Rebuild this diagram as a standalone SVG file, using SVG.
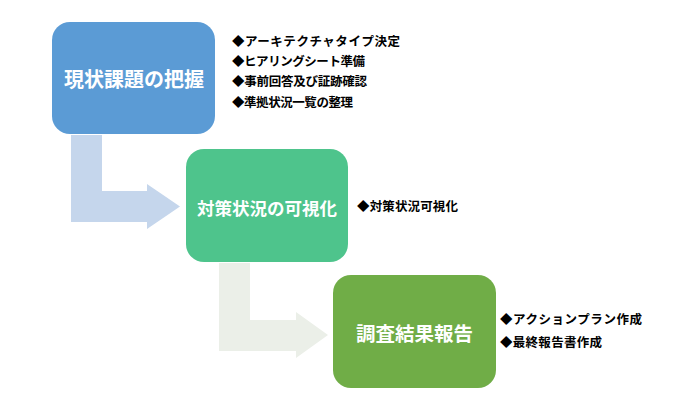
<svg xmlns="http://www.w3.org/2000/svg" width="692" height="403" viewBox="0 0 692 403">
<style>
.box-text{font-family:"Noto Sans CJK JP","Noto Sans",sans-serif;font-weight:bold;fill:#ffffff;text-anchor:middle;dominant-baseline:central}
.note{font-family:"Noto Sans CJK JP","Noto Sans",sans-serif;font-weight:bold;fill:#000000;font-size:12.5px;dominant-baseline:central}
</style>
<rect width="692" height="403" fill="#ffffff"/>
<g id="connectors">
<path id="arrow1" d="M71,135 H102 V191 H147 V184 L180,206.5 L147,229 V222 H71 Z" fill="#C5D6EC"/>
<path id="arrow2" d="M219,263 H250 V320 H296 V312 L328,335 L296,358 V351 H219 Z" fill="#EBEFE8"/>
</g>
<g id="node1">
<rect x="52" y="22" width="163" height="112" rx="18" fill="#5B9BD5"/>
<text class="box-text" x="134" y="78" font-size="20">現状課題の把握</text>
</g>
<g id="notes1">
<text class="note" x="232" y="40" textLength="168" lengthAdjust="spacing">◆アーキテクチャタイプ決定</text>
<text class="note" x="232" y="60.5" textLength="133" lengthAdjust="spacing">◆ヒアリングシート準備</text>
<text class="note" x="232" y="80.5" textLength="135" lengthAdjust="spacing">◆事前回答及び証跡確認</text>
<text class="note" x="232" y="101" textLength="121" lengthAdjust="spacing">◆準拠状況一覧の整理</text>
</g>
<g id="node2">
<rect x="186" y="149" width="162" height="113" rx="18" fill="#4EC48C"/>
<text class="box-text" x="267" y="207" font-size="17.5">対策状況の可視化</text>
</g>
<g id="notes2">
<text class="note" x="357" y="205" textLength="101" lengthAdjust="spacing">◆対策状況可視化</text>
</g>
<g id="node3">
<rect x="333" y="275" width="163" height="113" rx="18" fill="#70AD47"/>
<text class="box-text" x="414.5" y="332" font-size="19.5">調査結果報告</text>
</g>
<g id="notes3">
<text class="note" x="500" y="318" textLength="142" lengthAdjust="spacing">◆アクションプラン作成</text>
<text class="note" x="500" y="341.5" textLength="102" lengthAdjust="spacing">◆最終報告書作成</text>
</g>
</svg>
